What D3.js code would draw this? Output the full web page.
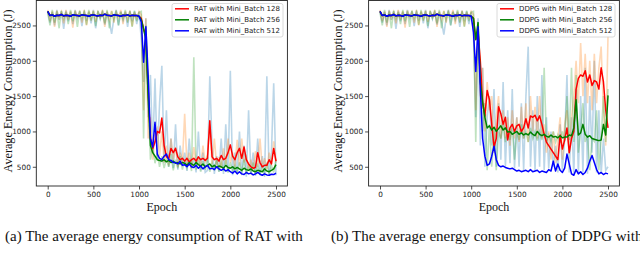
<!DOCTYPE html>
<html><head><meta charset="utf-8">
<script src="https://cdn.jsdelivr.net/npm/d3@7"></script>
<style>
html,body{margin:0;padding:0;background:#fff;}
svg{display:block;}
</style>
</head><body>
<svg id="c" width="640" height="256"></svg>
<script>
// ---------- DATA ----------
const epochs = d3.range(0, 2501, 25);
const xTicks = [0, 500, 1000, 1500, 2000, 2500];
const yTicks = [500, 1000, 1500, 2000, 2500];
const yLabel = "Average Energy Consumption (J)";
const xLabel = "Epoch";
const captionA = "(a) The average energy consumption of RAT with";
const captionB = "(b) The average energy consumption of DDPG with";
const legendA = ["RAT with Mini_Batch 128", "RAT with Mini_Batch 256", "RAT with Mini_Batch 512"];
const legendB = ["DDPG with Mini_Batch 128", "DDPG with Mini_Batch 256", "DDPG with Mini_Batch 512"];

// (a) RAT – smoothed curves
const ratSmooth128 = [2700,2640,2650,2630,2645,2640,2655,2635,2645,2640,2630,2650,2645,2640,2635,2650,2645,2640,2630,2645,2650,2640,2635,2645,2640,2660,2645,2640,2635,2650,2645,2640,2630,2645,2640,2650,2635,2645,2640,2640,2630,
 2600,2450,2350,1600,900,760,850,1000,980,1190,800,640,620,760,700,760,640,600,620,580,620,570,600,620,580,640,600,620,590,620,1150,640,600,620,580,660,600,620,700,810,650,600,700,760,620,780,600,540,500,480,490,700,560,500,520,520,600,540,760,580];
const ratSmooth256 = [2700,2640,2650,2630,2645,2640,2655,2635,2645,2640,2630,2650,2645,2640,2635,2650,2645,2640,2630,2645,2650,2640,2635,2645,2640,2660,2645,2640,2635,2650,2645,2640,2630,2645,2640,2650,2635,2645,2640,2640,2630,
 2580,2450,2300,1500,800,700,650,600,590,580,600,570,590,560,580,550,560,540,560,550,520,560,540,520,560,530,510,540,500,520,540,500,520,490,510,500,480,520,490,480,500,470,490,470,450,480,460,450,470,440,430,450,440,430,470,440,430,450,470,530];
const ratSmooth512 = [2700,2640,2650,2630,2645,2640,2655,2635,2645,2640,2630,2650,2645,2640,2635,2650,2645,2640,2630,2645,2650,2640,2635,2645,2640,2660,2645,2640,2635,2650,2645,2640,2630,2645,2640,2650,2635,2645,2640,2640,2630,
 2550,1980,2480,1800,900,780,1130,680,620,600,650,680,600,590,560,560,540,580,520,530,500,540,500,490,520,480,510,470,500,520,470,480,460,500,470,450,470,440,460,430,410,440,400,430,400,390,420,400,410,385,400,420,395,380,400,385,380,395,390,410];
// (a) RAT – raw (faint) curves
const ratRaw128 = [2720,2560,2700,2480,2710,2600,2690,2530,2720,2580,2700,2470,2710,2620,2690,2540,2720,2500,2700,2590,2710,2550,2690,2620,2720,2480,2700,2580,2710,2540,2690,2610,2720,2520,2700,2580,2710,2490,2690,2600,2700,
 2650,1300,2600,900,1200,600,1000,1050,650,1000,560,800,520,900,600,780,500,700,560,1250,520,700,480,780,540,650,500,800,560,680,1100,540,900,520,640,480,760,540,900,560,700,500,880,520,900,560,640,460,600,450,720,500,900,480,620,470,700,520,860,560];
const ratRaw256 = [2680,2500,2720,2540,2700,2460,2710,2590,2690,2520,2720,2560,2700,2480,2710,2600,2690,2510,2720,2570,2700,2490,2710,2600,2690,2530,2720,2460,2700,2580,2710,2500,2690,2590,2720,2540,2700,2480,2710,2560,2690,
 2700,900,2500,1500,600,800,550,700,500,650,480,620,500,680,450,600,480,650,460,580,480,620,440,2050,460,600,430,580,460,640,430,560,450,600,430,560,440,600,420,560,440,520,410,560,420,600,400,520,420,560,390,520,410,500,400,560,400,520,420,600];
const ratRaw512 = [2700,2540,2690,2500,2720,2580,2700,2450,2710,2560,2690,2520,2720,2600,2700,2490,2710,2570,2690,2530,2720,2460,2700,2590,2710,2510,2690,2550,2380,2600,2720,2500,2700,2570,2690,2480,2710,2560,2700,2520,2690,
 2300,1700,2600,1200,1800,700,1750,600,1400,1930,560,1300,500,900,480,1100,460,800,520,700,440,900,480,600,420,1000,450,700,420,450,1780,800,400,650,430,900,400,1100,420,1860,380,700,420,1000,380,800,360,1300,400,700,370,900,380,650,360,1780,380,700,1680,380];

// (b) DDPG – smoothed curves
const ddpgSmooth128 = [2700,2640,2650,2630,2645,2640,2655,2635,2645,2640,2630,2650,2645,2640,2635,2650,2645,2640,2630,2645,2650,2640,2635,2645,2640,2660,2645,2640,2635,2650,2645,2640,2630,2645,2640,2650,2635,2645,2640,2640,2630,
 2600,2300,2400,2000,1400,1220,1580,1450,1100,780,900,1350,1250,1100,1200,880,1050,1100,1000,1080,1100,1000,1050,1180,1050,1220,1200,1230,1150,1220,1100,960,850,800,750,700,650,600,950,750,880,1050,700,900,1000,1600,1750,1800,1780,1860,1700,1800,1650,1720,1700,1600,1900,1700,1300,1050];
const ddpgSmooth256 = [2700,2640,2650,2630,2645,2640,2655,2635,2645,2640,2630,2650,2645,2640,2635,2650,2645,2640,2630,2645,2650,2640,2635,2645,2640,2660,2645,2640,2635,2650,2645,2640,2630,2645,2640,2650,2635,2645,2640,2640,2630,
 2600,2300,2540,1700,1420,1200,1050,1080,1020,1060,1000,1040,1080,1020,1050,990,1000,960,980,1000,960,980,950,970,950,990,960,940,1000,960,940,960,930,920,950,920,930,910,940,910,920,920,950,940,1050,1450,950,980,1100,960,920,940,900,890,880,870,880,1100,950,1510];
const ddpgSmooth512 = [2700,2640,2650,2630,2645,2640,2655,2635,2645,2640,2630,2650,2645,2640,2635,2650,2645,2640,2630,2645,2650,2640,2635,2645,2640,2660,2645,2640,2635,2650,2645,2640,2630,2645,2640,2650,2635,2645,2640,2640,2630,
 2400,1850,2480,1600,900,650,520,540,650,790,600,520,500,510,490,480,470,480,460,440,450,430,440,450,430,460,430,440,450,420,440,430,420,460,440,580,440,540,450,420,480,680,540,400,380,460,400,430,390,420,480,580,660,560,460,400,420,390,410,400];
// (b) DDPG – raw (faint) curves
const ddpgRaw128 = [2720,2560,2700,2480,2710,2600,2690,2530,2720,2580,2700,2470,2710,2620,2690,2540,2720,2500,2700,2590,2710,2550,2690,2620,2720,2480,2700,2580,2710,2540,2690,2610,2720,2520,2700,2580,2710,2490,2690,2600,2700,
 2650,1300,2500,1500,1900,1000,1700,1300,1500,700,1200,1500,900,1300,900,1200,800,1300,900,1200,850,1350,900,1400,850,1500,1000,1350,900,1500,900,1100,700,1000,600,1000,550,900,1200,600,1100,1300,700,1200,1500,2000,1400,2250,1500,2100,1400,2000,1300,2100,1400,1900,2200,1300,800,2350];
const ddpgRaw256 = [2680,2500,2720,2540,2700,2460,2710,2590,2690,2520,2720,2560,2700,2480,2710,2600,2690,2510,2720,2570,2700,2490,2710,2600,2690,2530,2720,2460,2700,2580,2710,2500,2690,2590,2720,2540,2700,2480,2710,2560,2690,
 2700,850,2550,1900,1000,1400,450,1100,500,1050,450,1000,900,1100,850,1000,880,1050,600,1000,880,1100,900,1000,850,1050,900,1000,870,1000,880,1900,850,950,860,1000,850,950,840,1000,860,1500,880,1900,850,1800,700,1000,1400,850,950,450,900,860,1300,450,900,1500,850,1600];
const ddpgRaw512 = [2700,2540,2690,2500,2720,2580,2700,2450,2710,2560,2690,2520,2720,2600,2700,2490,2710,2570,2690,2530,2720,2460,2700,2590,2710,2510,2690,2550,2370,2600,2720,2500,2700,2570,2690,2480,2710,2560,2700,2520,2690,
 2400,1200,2600,800,1900,500,1200,1500,800,1600,500,1400,600,1700,500,1300,550,1600,480,1200,500,1400,450,1500,2200,500,1300,450,1500,500,1800,450,1200,480,1000,500,800,420,1100,450,900,1800,420,1200,400,1600,400,1500,420,1900,400,1500,700,2000,420,1300,400,900,450,500];

// ---------- DRAW ----------
const svg = d3.select("#c");
const smoothColors = ["#ff0000", "#008000", "#0000ff"];
const rawColors = ["#1f77b4", "#ff7f0e", "#2ca02c"];

function panel(cfg) {
  const x = d3.scaleLinear().domain([-125, 2625]).range([cfg.left, cfg.right]);
  const y = d3.scaleLinear().domain([228, 2853]).range([186, 0.5]);
  const g = svg.append("g");
  const clipId = "clip" + cfg.id;
  svg.append("clipPath").attr("id", clipId).append("rect")
    .attr("x", cfg.left).attr("y", 0.5).attr("width", cfg.right - cfg.left).attr("height", 185.5);
  const line = d3.line().x((d, i) => x(epochs[i])).y(d => y(d));
  const plot = g.append("g").attr("clip-path", `url(#${clipId})`);
  // raw series: order blue, orange, green
  [cfg.raw[2], cfg.raw[0], cfg.raw[1]].forEach((s, k) => {
    plot.append("path").datum(s).attr("d", line).attr("fill", "none")
      .attr("stroke", rawColors[k]).attr("stroke-opacity", 0.3).attr("stroke-width", 1.6);
  });
  cfg.smooth.forEach((s, k) => {
    plot.append("path").datum(s).attr("d", line).attr("fill", "none")
      .attr("stroke", smoothColors[k]).attr("stroke-width", 1.5).attr("stroke-linejoin", "round");
  });
  // axes
  const xa = g.append("g").attr("transform", "translate(0,186)")
    .call(d3.axisBottom(x).tickValues(xTicks).tickSize(3.5).tickPadding(2).tickFormat(d3.format("d")));
  const ya = g.append("g").attr("transform", `translate(${cfg.left},0)`)
    .call(d3.axisLeft(y).tickValues(yTicks).tickSize(3.5).tickPadding(2).tickFormat(d3.format("d")));
  [xa, ya].forEach(a => {
    a.select(".domain").remove();
    a.selectAll("line").attr("stroke", "#222").attr("stroke-width", 0.8);
    a.selectAll("text").attr("font-family", "DejaVu Sans").attr("font-size", 7.3).attr("fill", "#222");
  });
  g.append("rect").attr("x", cfg.left).attr("y", 0.5).attr("width", cfg.right - cfg.left).attr("height", 185.5)
    .attr("fill", "none").attr("stroke", "#222").attr("stroke-width", 0.9);
  // labels
  g.append("text").attr("transform", `translate(${cfg.ylabX},91) rotate(-90)`)
    .attr("text-anchor", "middle").attr("dominant-baseline", "central")
    .attr("font-family", "Liberation Serif").attr("font-size", 12.2).attr("fill", "#111").text(yLabel);
  g.append("text").attr("x", (cfg.left + cfg.right) / 2).attr("y", 211)
    .attr("text-anchor", "middle").attr("font-family", "Liberation Serif").attr("font-size", 12).attr("fill", "#111").text(xLabel);
  g.append("text").attr("x", cfg.capX).attr("y", 241)
    .attr("font-family", "Liberation Serif").attr("font-size", 15).attr("fill", "#111").text(cfg.caption);
  // legend
  const lg = g.append("g");
  lg.append("rect").attr("x", cfg.legX).attr("y", 3.5).attr("width", cfg.legW).attr("height", 33.5).attr("rx", 2)
    .attr("fill", "#fff").attr("fill-opacity", 0.85).attr("stroke", "#d0d0d0").attr("stroke-width", 0.8);
  cfg.legend.forEach((t, k) => {
    const yy = 8.8 + k * 11;
    lg.append("line").attr("x1", cfg.legX + 3).attr("x2", cfg.legX + 17).attr("y1", yy).attr("y2", yy)
      .attr("stroke", smoothColors[k]).attr("stroke-width", 1.5);
    lg.append("text").attr("x", cfg.legX + 22).attr("y", yy).attr("dominant-baseline", "central")
      .attr("font-family", "DejaVu Sans").attr("font-size", 7).attr("fill", "#222").text(t);
  });
}

panel({id: "a", left: 36.3, right: 287.4, ylabX: 8, capX: 5, caption: captionA,
  legX: 172, legW: 111, legend: legendA,
  smooth: [ratSmooth128, ratSmooth256, ratSmooth512], raw: [ratRaw128, ratRaw256, ratRaw512]});
panel({id: "b", left: 368.6, right: 619.4, ylabX: 338, capX: 331, caption: captionB,
  legX: 497, legW: 118, legend: legendB,
  smooth: [ddpgSmooth128, ddpgSmooth256, ddpgSmooth512], raw: [ddpgRaw128, ddpgRaw256, ddpgRaw512]});
</script>
</body></html>
